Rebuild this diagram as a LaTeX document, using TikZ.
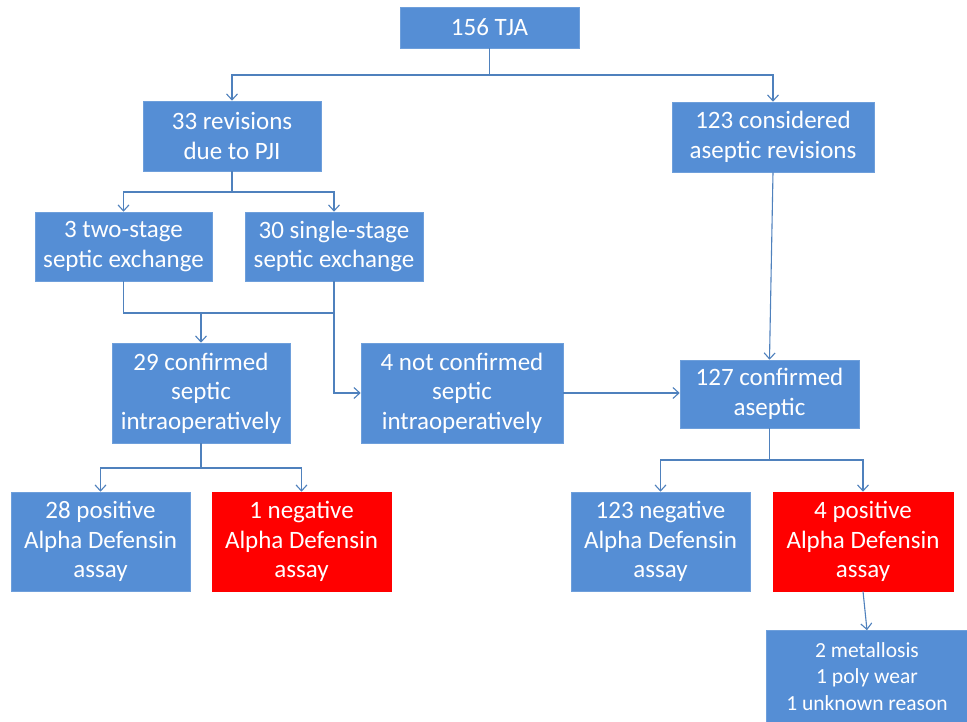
\documentclass[tikz,border=0pt]{standalone}
\usepackage{fontspec}
\setmainfont{Carlito}
\usetikzlibrary{arrows.meta}
\definecolor{boxblue}{RGB}{85,142,213}
\definecolor{lineblue}{RGB}{79,129,189}
\definecolor{boxred}{RGB}{255,0,0}
\begin{document}
\begin{tikzpicture}[x=1pt,y=-1pt,
  box/.style={rectangle, fill=boxblue, draw=boxblue!85!white, line width=0.6pt, text=white, align=center, inner sep=0pt,
    font=\fontsize{25}{29.5}\selectfont},
  redbox/.style={box, fill=boxred, draw=boxred},
  conn/.style={draw=lineblue, line width=1.1pt},
  arr/.style={conn, -{Straight Barb[length=6pt,width=11pt,line width=1.1pt]}}]
\useasboundingbox (0,0) rectangle (967,721);
\clip (0,0) rectangle (967,721);
\fill[white] (0,0) rectangle (967,721);

\node[box, minimum width=179pt, minimum height=41pt] (tja) at (489.5,27.5) {156 TJA};
\node[box, minimum width=178pt, minimum height=70pt] (rev) at (232,136) {33 revisions\\due to PJI};
\node[box, minimum width=202pt, minimum height=70pt] (asep) at (773,137) {123 considered\\aseptic revisions};
\node[box, minimum width=177pt, minimum height=69pt] (two) at (123.5,246.5) {3 two-stage\\septic exchange};
\node[box, minimum width=178pt, minimum height=69pt] (single) at (334,246.5) {30 single-stage\\septic exchange};
\node[box, minimum width=178pt, minimum height=100pt] (sept) at (201,393) {29 confirmed\\septic\\intraoperatively};
\node[box, minimum width=202pt, minimum height=100pt] (notc) at (462,393) {4 not confirmed\\septic\\intraoperatively};
\node[box, minimum width=179pt, minimum height=68pt] (conf) at (769.5,394) {127 confirmed\\aseptic};
\node[box, minimum width=179pt, minimum height=99pt] (p28) at (100.5,541.5) {28 positive\\Alpha Defensin\\assay};
\node[redbox, minimum width=179pt, minimum height=99pt] (n1) at (301.5,541.5) {1 negative\\Alpha Defensin\\assay};
\node[box, minimum width=179pt, minimum height=99pt] (n123) at (660.5,541.5) {123 negative\\Alpha Defensin\\assay};
\node[redbox, minimum width=180pt, minimum height=99pt] (p4) at (863,541.5) {4 positive\\Alpha Defensin\\assay};
\node[box, minimum width=202pt, minimum height=92pt, font=\fontsize{21.5}{26.5}\selectfont] (last) at (867,676.5) {2 metallosis\\1 poly wear\\1 unknown reason};

\coordinate (j1) at (0,75);
\coordinate (j2) at (0,192);
\coordinate (j3) at (0,313);
\coordinate (j4) at (0,468);
\coordinate (j5) at (0,460);

% 156 TJA split
\draw[conn] (tja.south) -- (tja.south |- j1);
\draw[arr] (tja.south |- j1) -| (rev.north);
\draw[arr] (tja.south |- j1) -| (asep.north);
% 33 revisions split
\draw[conn] (rev.south) -- (rev.south |- j2);
\draw[arr] (rev.south |- j2) -| (two.north);
\draw[arr] (rev.south |- j2) -| (single.north);
% merge to 29 confirmed
\draw[conn] (two.south) |- (single.south |- j3);
\draw[arr] (sept.north |- j3) -- (sept.north);
\draw[arr] (single.south) |- (notc.west);
% right side
\draw[arr] (asep.south) -- (conf.north);
\draw[arr] (notc.east) -- (notc.east -| conf.west);
% 29 confirmed split
\draw[conn] (sept.south) -- (sept.south |- j4);
\draw[arr] (sept.south |- j4) -| (p28.north);
\draw[arr] (sept.south |- j4) -| (n1.north);
% 127 confirmed split
\draw[conn] (conf.south) -- (conf.south |- j5);
\draw[arr] (conf.south |- j5) -| (n123.north);
\draw[arr] (conf.south |- j5) -| (p4.north);
% 4 positive to reasons
\draw[arr] (p4.south) -- (last.north);
\end{tikzpicture}
\end{document}
